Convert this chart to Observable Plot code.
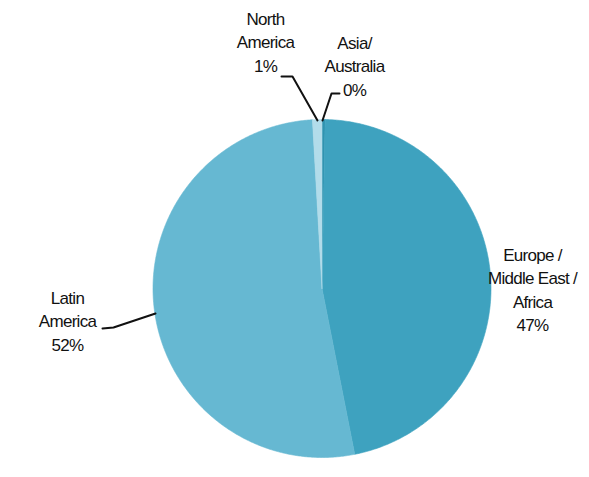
<!DOCTYPE html>
<html>
<head>
<meta charset="utf-8">
<script src="https://cdn.jsdelivr.net/npm/d3@7"></script>
<script src="https://cdn.jsdelivr.net/npm/@observablehq/plot@0.6"></script>
<style>
  html, body { margin: 0; padding: 0; background: #fff; }
  #chart svg { display: block; }
</style>
</head>
<body>
<div id="chart"></div>
<script>
// ---- data (clockwise from 12 o'clock) ----
const regions = ["Asia/Australia", "Europe / Middle East / Africa", "Latin America", "North America"];
const shares = [0.3, 46.6, 52.2, 0.9];
const labelLines = [
  ["Asia/", "Australia", "0%"],
  ["Europe /", "Middle East /", "Africa", "47%"],
  ["Latin", "America", "52%"],
  ["North", "America", "1%"]
];
const colors = ["#2f93b0", "#3ea2bf", "#66b8d2", "#b2dcea"];

// ---- layout ----
const W = 589, H = 477;
const cx = 321.5, cy = 288, R = 169;
const lineH = 23.5;
// label anchor (center x, first line y) per region
const labelPos = [[354, 43], [532, 255], [67, 298], [265, 19]];
// leader polylines per region (null = none)
const leaders = [
  [[322, 120], [331, 93], [339, 93]],
  null,
  [[155, 313], [113, 327], [102, 328]],
  [[317, 120], [292, 76], [281, 76]]
];

const arcs = d3.pie().sort(null).value(d => d)(shares);
const pts = [];
arcs.forEach((a, i) => {
  const name = regions[i];
  pts.push({name, x: cx, y: cy});
  const n = Math.max(2, Math.ceil((a.endAngle - a.startAngle) / (Math.PI / 360)));
  for (let k = 0; k <= n; k++) {
    const t = a.startAngle + (a.endAngle - a.startAngle) * k / n;
    pts.push({name, x: cx + R * Math.sin(t), y: cy - R * Math.cos(t)});
  }
  pts.push({name, x: cx, y: cy});
});

const texts = [];
labelLines.forEach((lines, i) => {
  lines.forEach((s, j) => texts.push({text: s, x: labelPos[i][0], y: labelPos[i][1] + j * lineH}));
});
const leaderPts = [];
leaders.forEach((l, i) => { if (l) l.forEach(p => leaderPts.push({name: regions[i], x: p[0], y: p[1]})); });

const chart = Plot.plot({
  width: W, height: H,
  margin: 0,
  x: {domain: [0, W], range: [0, W], axis: null},
  y: {domain: [0, H], range: [0, H], axis: null},
  color: {domain: regions, range: colors},
  style: "font-family: 'Liberation Sans', Arial, sans-serif; letter-spacing: -0.7px; background: #fff;",
  marks: [
    Plot.line(pts, {x: "x", y: "y", z: "name", fill: "name", stroke: "name", strokeWidth: 0.6, curve: "linear"}),
    Plot.line(leaderPts, {x: "x", y: "y", z: "name", stroke: "#111", strokeWidth: 2}),
    Plot.text(texts, {x: "x", y: "y", text: "text", fontSize: 17, fill: "#111", textAnchor: "middle"})
  ]
});
document.getElementById("chart").append(chart);
</script>
</body>
</html>
